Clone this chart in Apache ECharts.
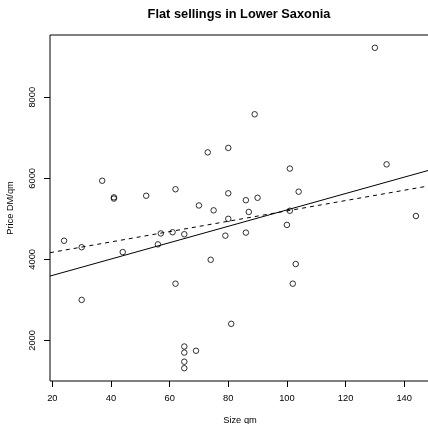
<!DOCTYPE html>
<html>
<head>
<meta charset="utf-8">
<script src="https://cdn.jsdelivr.net/npm/echarts@6/dist/echarts.min.js"></script>
<style>
html,body{margin:0;padding:0;background:#fff;}
#c{width:428px;height:424px;}
</style>
</head>
<body>
<div id="c"></div>
<script>
// Data
const sizeQm = [24, 30, 30, 37, 41, 41, 44, 52, 56, 57, 61, 62, 62, 65, 65, 65, 65, 65, 69, 70, 73, 74, 75, 79, 80, 80, 80, 81, 86, 86, 87, 89, 90, 100, 101, 101, 102, 103, 104, 130, 134, 144];
const priceDMqm = [4460, 4300, 3000, 5940, 5530, 5500, 4180, 5570, 4370, 4640, 4670, 5730, 3400, 4620, 1850, 1700, 1475, 1315, 1745, 5330, 6640, 3990, 5210, 4585, 6750, 5630, 5000, 2410, 5460, 4660, 5170, 7580, 5520, 4850, 6240, 5200, 3400, 3885, 5670, 9220, 6345, 5070];

// Fitted lines: endpoints read at the plot edges
const lineX = [19.2, 148.8];
const solidFitY = [3588, 6206];
const dashedFitY = [4165, 5818];

const xTicks = [20, 40, 60, 80, 100, 120, 140];
const yTicks = [2000, 4000, 6000, 8000];

const titleText = 'Flat sellings in Lower Saxonia';
const xName = 'Size qm';
const yName = 'Price DM/qm';

const font = 'Liberation Sans, Arial, Helvetica, sans-serif';

const chart = echarts.init(document.getElementById('c'), null, {renderer: 'canvas'});
chart.setOption({
  animation: false,
  backgroundColor: '#fff',
  title: {
    text: titleText,
    left: 234, textAlign: 'center', top: 3,
    textStyle: {fontFamily: font, fontSize: 12.8, fontWeight: 'bold', color: '#000'}
  },
  grid: {
    left: 50, width: 380, top: 35, bottom: 43,
    containLabel: false, outerBoundsMode: 'none',
    show: true, borderColor: '#000', borderWidth: 1, backgroundColor: 'transparent'
  },
  xAxis: {
    type: 'value', min: 19.2, max: 148.8,
    name: xName, nameLocation: 'middle', nameGap: 35,
    nameTextStyle: {fontFamily: font, fontSize: 9.3, color: '#000'},
    axisLine: {show: false},
    splitLine: {show: false},
    axisTick: {show: true, inside: false, length: 6, customValues: xTicks, lineStyle: {color: '#000', width: 1}},
    axisLabel: {show: true, margin: 13, customValues: xTicks, fontFamily: font, fontSize: 9.3, color: '#000',
      formatter: v => String(v)}
  },
  yAxis: {
    type: 'value', min: 999, max: 9536,
    name: yName, nameLocation: 'middle', nameGap: 35, nameRotate: 90,
    nameTextStyle: {fontFamily: font, fontSize: 9.3, color: '#000'},
    axisLine: {show: false},
    splitLine: {show: false},
    axisTick: {show: true, inside: false, length: 6, customValues: yTicks, lineStyle: {color: '#000', width: 1}},
    axisLabel: {show: true, margin: 13, rotate: 90, customValues: yTicks, fontFamily: font, fontSize: 9.3, color: '#000',
      formatter: v => String(v)}
  },
  series: [
    {
      type: 'scatter',
      data: sizeQm.map((x, i) => [x, priceDMqm[i]]),
      symbol: 'circle', symbolSize: 5.5,
      itemStyle: {color: 'rgba(255,255,255,0)', borderColor: '#000', borderWidth: 1},
      z: 3
    },
    {
      type: 'line',
      data: lineX.map((x, i) => [x, solidFitY[i]]),
      showSymbol: false, symbol: 'none',
      lineStyle: {color: '#000', width: 1, type: 'solid'},
      z: 2
    },
    {
      type: 'line',
      data: lineX.map((x, i) => [x, dashedFitY[i]]),
      showSymbol: false, symbol: 'none',
      lineStyle: {color: '#000', width: 1, type: [4, 4]},
      z: 2
    }
  ]
});
</script>
</body>
</html>
